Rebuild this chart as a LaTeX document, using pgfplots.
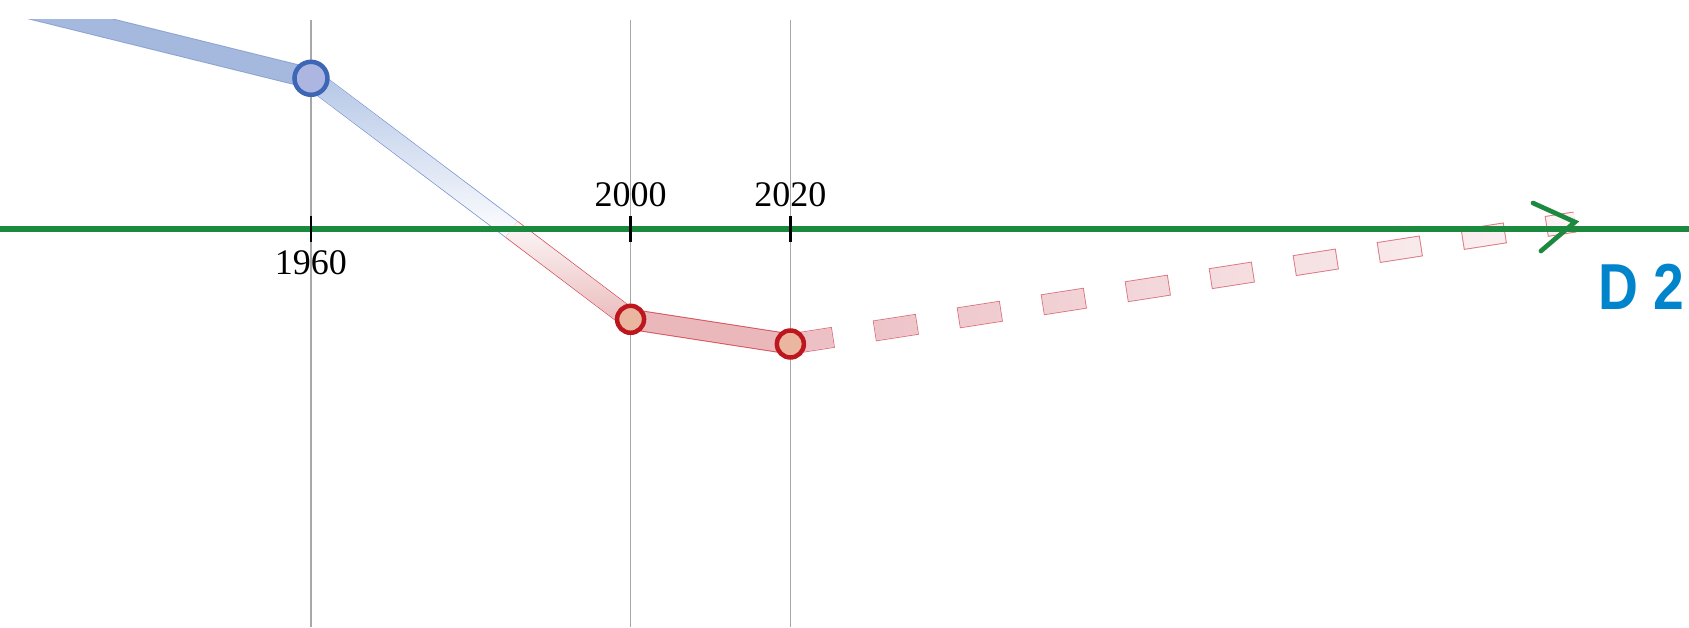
\documentclass[border=0pt]{standalone}
\usepackage{fontspec}
\setmainfont{Liberation Serif}
\newfontfamily\labelsans{Liberation Sans}
\usepackage{pgfplots}
\pgfplotsset{compat=1.18}
\usetikzlibrary{fadings}

\definecolor{greenl}{RGB}{28,138,62}
\definecolor{blueband}{RGB}{165,185,222}
\definecolor{blueedgeA}{RGB}{140,163,212}
\definecolor{blueedge}{RGB}{125,152,212}
\definecolor{bluefade}{RGB}{178,197,230}
\definecolor{bluering}{RGB}{62,102,182}
\definecolor{bluefill}{RGB}{172,182,224}
\definecolor{redband}{RGB}{234,184,186}
\definecolor{redfade}{RGB}{234,184,186}
\definecolor{rededge}{RGB}{215,85,95}
\definecolor{redring}{RGB}{190,22,30}
\definecolor{redfill}{RGB}{234,182,160}
\definecolor{dashfill}{RGB}{236,190,195}
\definecolor{dashedge}{RGB}{220,120,130}
\definecolor{gridgray}{RGB}{168,168,168}
\definecolor{dblue}{RGB}{0,133,204}

\tikzfading[name=fadedown, top color=transparent!0, bottom color=transparent!100]
\tikzfading[name=fadeup, top color=transparent!92, bottom color=transparent!0]
\tikzfading[name=faderight, left color=transparent!0, right color=transparent!85]

\pgfplotstableread{
x y
1920 230
1960 151
}\bluetop
\pgfplotstableread{
x y
1960 151
1985.1 0
}\bluelow
\pgfplotstableread{
x y
1985.1 0
2000 -90
}\redlow
\pgfplotstableread{
x y
2000 -90
2020 -114.7
}\redflat
\pgfplotstableread{
x y
2020 -114.7
2118.2 7.3
}\proj

\begin{document}
\begin{tikzpicture}
\useasboundingbox (0,0) rectangle (506.7pt,188.1pt);
\begin{axis}[
  at={(0,0)}, anchor=south west,
  width=506.7pt, height=182.1pt, scale only axis,
  xmin=1921.08, xmax=2132.47,
  ymin=-397.7, ymax=209.3,
  hide axis,
  clip=true,
]
% blue band, upper part
\addplot[draw=blueedgeA, line width=6.3pt, no marks] table {\bluetop};
\addplot[draw=blueband, line width=5.7pt, no marks] table {\bluetop};
% blue band, fading part
\addplot[draw=blueedge, line width=6.2pt, no marks] table {\bluelow};
\addplot[draw=white, line width=5.7pt, no marks] table {\bluelow};
\addplot[draw=bluefade, line width=5.7pt, no marks, path fading=fadedown] table {\bluelow};
% red band
\addplot[draw=rededge, line width=6.2pt, no marks] table {\redlow};
\addplot[draw=white, line width=5.7pt, no marks] table {\redlow};
\addplot[draw=redfade, line width=5.7pt, no marks, path fading=fadeup] table {\redlow};
\addplot[draw=rededge, line width=6.3pt, no marks] table {\redflat};
\addplot[draw=redband, line width=5.7pt, no marks] table {\redflat};
% projection (dashed)
\addplot[draw=dashedge, line width=6.3pt, no marks, dash pattern=on 13.05pt off 12.45pt] table {\proj};
\addplot[draw=white, line width=5.7pt, no marks, dash pattern=on 12.45pt off 13.05pt, dash phase=25.2pt] table {\proj};
\addplot[draw=dashfill, line width=5.7pt, no marks, dash pattern=on 12.45pt off 13.05pt, dash phase=25.2pt, path fading=faderight] table {\proj};
% grid lines
\draw[gridgray, line width=0.35pt] (axis cs:1960,-397.7) -- (axis cs:1960,209.3);
\draw[gridgray, line width=0.35pt] (axis cs:2000,-397.7) -- (axis cs:2000,209.3);
\draw[gridgray, line width=0.35pt] (axis cs:2020,-397.7) -- (axis cs:2020,209.3);
% zero line
\addplot[draw=greenl, line width=1.75pt, no marks] coordinates {(1915,0) (2140,0)};
% ticks
\draw[black, line width=0.75pt] (axis cs:1960,-12.5) -- (axis cs:1960,13.3);
\draw[black, line width=0.75pt] (axis cs:2000,-12.5) -- (axis cs:2000,13.3);
\draw[black, line width=0.75pt] (axis cs:2020,-12.5) -- (axis cs:2020,13.3);
% arrow head
\draw[greenl, line width=1.4pt, line cap=round, line join=miter]
  (axis cs:2112.94,26.3) -- (axis cs:2118.2,7.3) -- (axis cs:2113.94,-21.7);
% points
\addplot[only marks, mark=*, mark size=4.95pt, mark options={draw=bluering, fill=bluefill, line width=1.35pt}] coordinates {(1960,151)};
\addplot[only marks, mark=*, mark size=4.05pt, mark options={draw=redring, fill=redfill, line width=1.35pt}] coordinates {(2000,-90) (2020,-114.7)};
% labels
\node[anchor=base, inner sep=0, font=\fontsize{10.8}{13}\selectfont] at (axis cs:1960,-45.7) {1960};
\node[anchor=base, inner sep=0, font=\fontsize{10.8}{13}\selectfont] at (axis cs:2000,22.6) {2000};
\node[anchor=base, inner sep=0, font=\fontsize{10.8}{13}\selectfont] at (axis cs:2020,22.6) {2020};
\node[anchor=base west, inner sep=0, text=dblue, font=\labelsans\bfseries\fontsize{19.5}{22}\selectfont] at (axis cs:2121.08,-80.7) {\scalebox{0.85}[1]{D 2}};
\end{axis}
\end{tikzpicture}
\end{document}
